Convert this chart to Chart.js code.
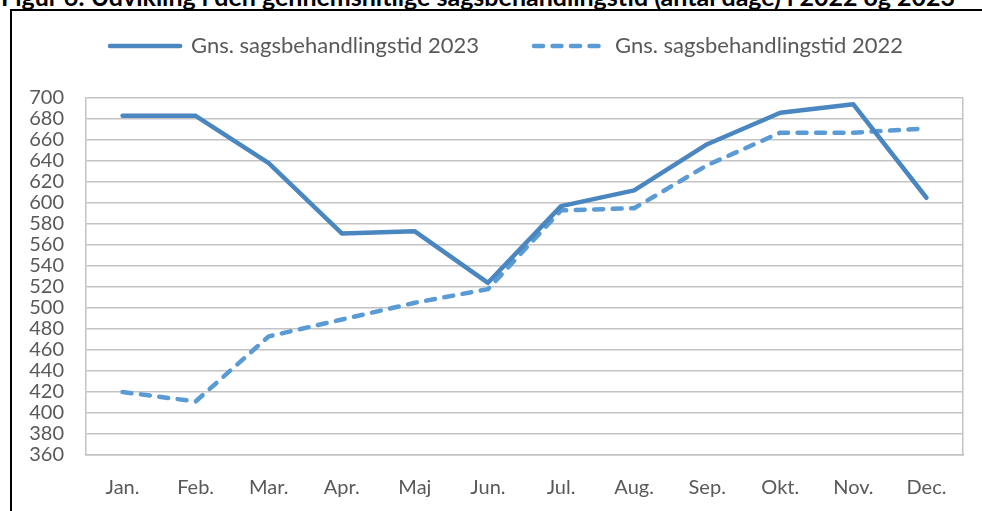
<!DOCTYPE html>
<html>
<head>
<meta charset="utf-8">
<script src="https://cdn.jsdelivr.net/npm/chart.js@4.4.1/dist/chart.umd.min.js"></script>
<style>
  html, body { margin: 0; padding: 0; background: #fff; overflow: hidden; }
  body { width: 982px; height: 511px; position: relative; }
  #title { position: absolute; left: 1px; top: -19px; font: bold 25px Lato, "Liberation Sans", sans-serif; color: #000; white-space: nowrap; }
  #frame { position: absolute; left: 10px; top: 9px; width: 1000px; height: 540px; border: 2px solid #000; background: #fff; }
  #wrap { position: absolute; left: 12px; top: 11px; width: 970px; height: 500px; }
</style>
</head>
<body>
<div id="title">Figur 6: Udvikling i den gennemsnitlige sagsbehandlingstid (antal dage) i 2022 og 2023</div>
<div id="frame"></div>
<div id="wrap"><canvas id="lineChart"></canvas></div>
<script>
// måneder og værdier
const months = ['Jan.', 'Feb.', 'Mar.', 'Apr.', 'Maj', 'Jun.', 'Jul.', 'Aug.', 'Sep.', 'Okt.', 'Nov.', 'Dec.'];
const days2023 = [683, 683, 638, 571, 573, 524, 597, 612, 656, 686, 694, 605];
const days2022 = [420, 411, 473, 489, 505, 518, 593, 595, 636, 667, 667, 671];
const yMin = 360, yMax = 700, yStep = 20;

const txtClr = '#595959';
const gridClr = '#c3c3c3';
const fam = 'Lato, "Liberation Sans", sans-serif';
const font = { family: fam, size: 20 };

const chart = new Chart(document.getElementById('lineChart'), {
    type: 'line',
    data: {
        labels: months,
        datasets: [
            { label: 'Gns. sagsbehandlingstid 2023', data: days2023, borderColor: '#4a86bf', backgroundColor: '#4a86bf',
              borderWidth: 4.5, pointRadius: 0, tension: 0, borderCapStyle: 'round', borderJoinStyle: 'round' },
            { label: 'Gns. sagsbehandlingstid 2022', data: days2022, borderColor: '#5b9bd5', backgroundColor: '#5b9bd5',
              borderWidth: 4.5, pointRadius: 0, tension: 0, borderDash: [9, 9.5], borderCapStyle: 'round', borderJoinStyle: 'round' }
        ]
    },
    options: {
        responsive: true, maintainAspectRatio: false, animation: false,
        layout: { padding: { left: 0, right: 19, top: -31, bottom: -10 } },
        plugins: {
            tooltip: { enabled: false },
            legend: {
                position: 'top',
                labels: {
                    color: txtClr, font: { family: fam, size: 22 }, usePointStyle: true, pointStyle: 'line', pointStyleWidth: 70, padding: 55,
                    generateLabels: (c) => {
                        const items = Chart.defaults.plugins.legend.labels.generateLabels(c);
                        items.forEach((it, i) => {
                            const ds = c.data.datasets[i];
                            it.lineDash = ds.borderDash || [];
                            it.lineCap = 'round';
                            it.lineWidth = ds.borderWidth;
                            it.strokeStyle = ds.borderColor;
                        });
                        return items;
                    }
                }
            }
        },
        scales: {
            x: {
                offset: true,
                grid: { display: false, drawTicks: false },
                border: { display: true, color: gridClr, width: 1.5 },
                ticks: { color: txtClr, font: font, padding: 21, maxRotation: 0, autoSkip: false }
            },
            y: {
                min: yMin, max: yMax,
                grid: { color: gridClr, lineWidth: 1.5, drawTicks: false },
                border: { display: true, color: gridClr, width: 1.5 },
                ticks: { stepSize: yStep, color: txtClr, font: font, padding: 22, autoSkip: false },
                afterFit: (s) => { s.width = 74; }
            },
            yR: {
                position: 'right', min: yMin, max: yMax,
                grid: { drawOnChartArea: false, drawTicks: false },
                border: { display: true, color: gridClr, width: 1.5 },
                ticks: { display: false },
                afterFit: (s) => { s.width = 0; }
            }
        }
    }
});

// mere luft under legenden og lidt forskudt mod højre, som i figuren
const legendFit = chart.legend.fit;
chart.legend.fit = function () {
    legendFit.call(this);
    this.height += 31;
    this.lineWidths[0] -= 38;
};
chart.update();
</script>
</body>
</html>
